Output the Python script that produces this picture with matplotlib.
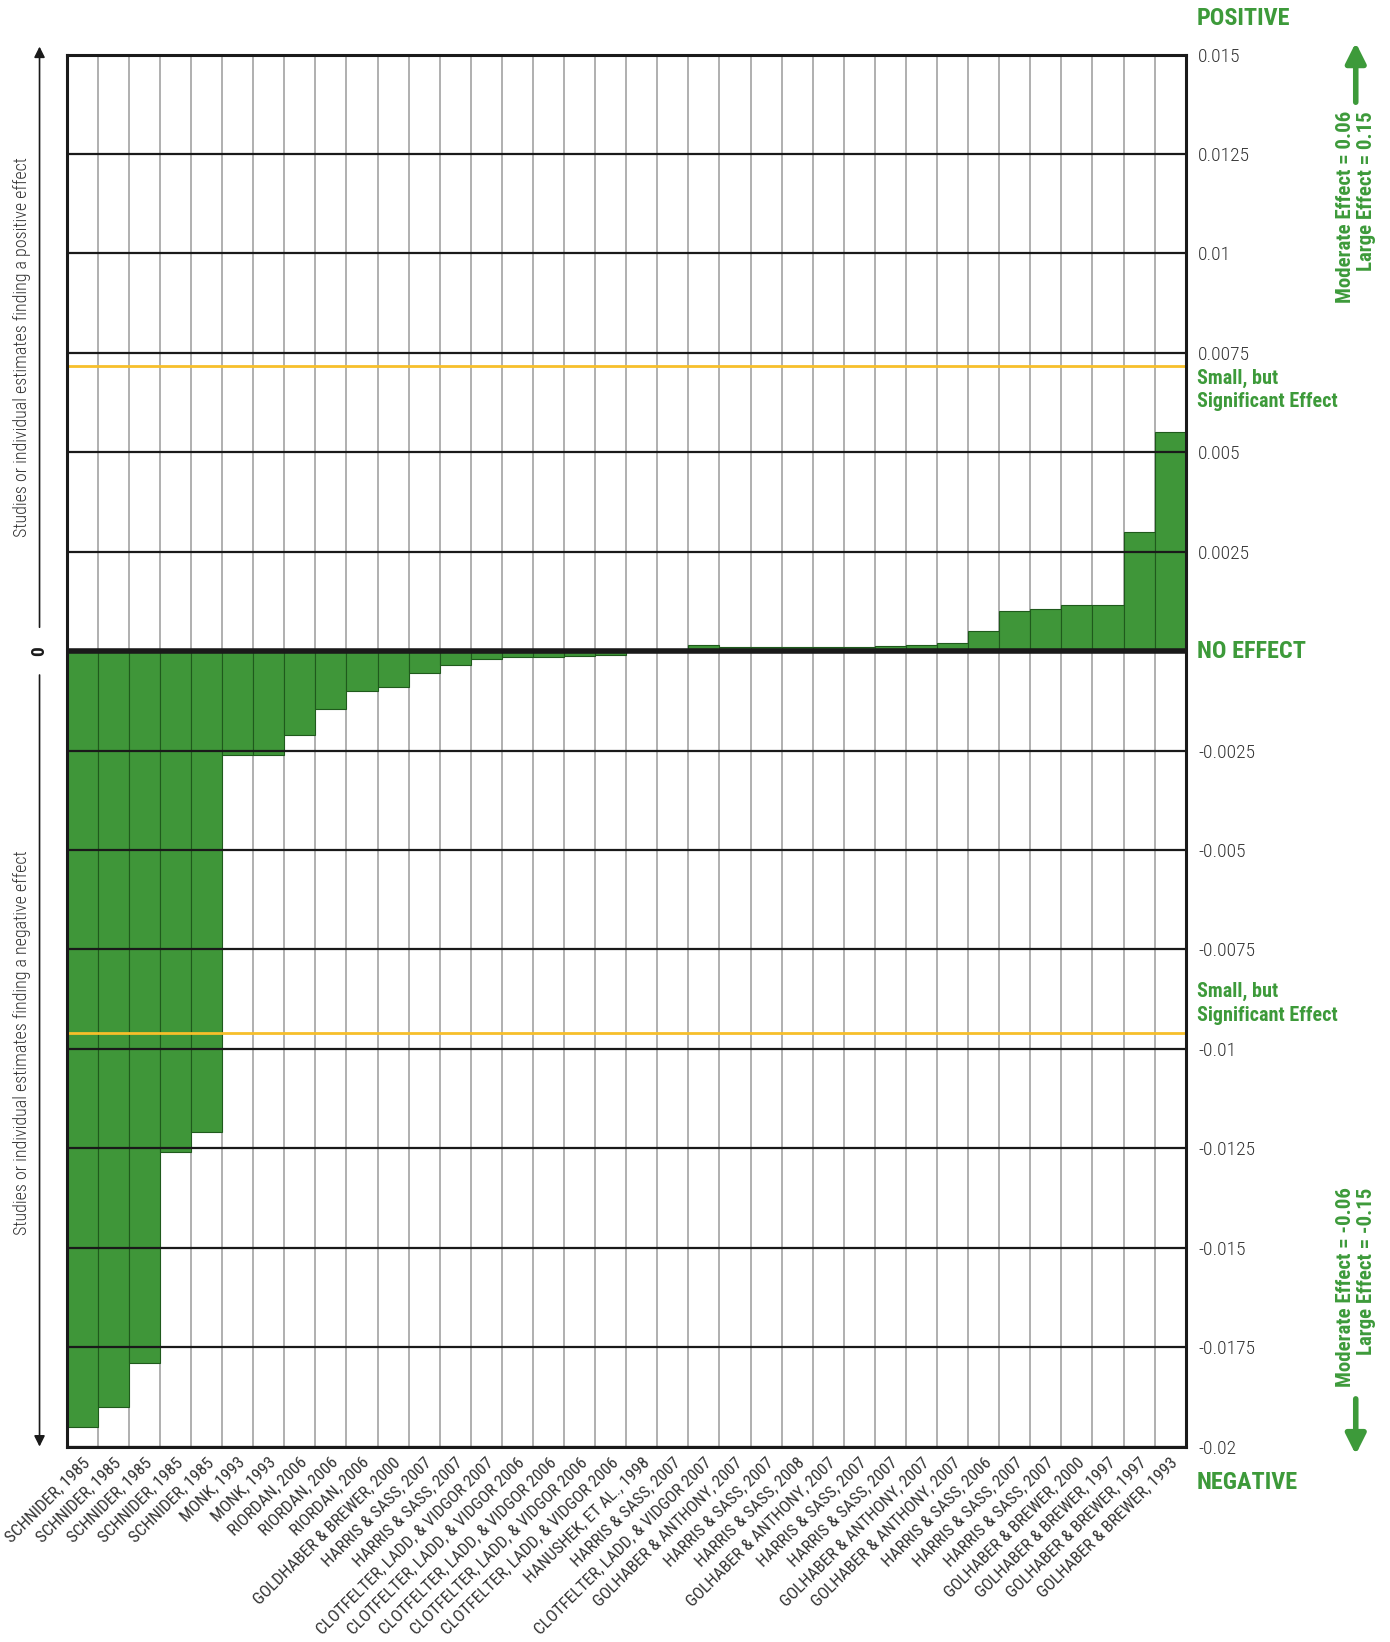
import matplotlib
matplotlib.use('Agg')
import matplotlib.pyplot as plt

# study labels, in the order drawn left to right
studies = ['SCHNIDER, 1985', 'SCHNIDER, 1985', 'SCHNIDER, 1985', 'SCHNIDER, 1985', 'SCHNIDER, 1985',
           'MONK, 1993', 'MONK, 1993',
           'RIORDAN, 2006', 'RIORDAN, 2006', 'RIORDAN, 2006',
           'GOLDHABER & BREWER, 2000',
           'HARRIS & SASS, 2007', 'HARRIS & SASS, 2007',
           'CLOTFELTER, LADD, & VIDGOR 2007', 'CLOTFELTER, LADD, & VIDGOR 2006',
           'CLOTFELTER, LADD, & VIDGOR 2006', 'CLOTFELTER, LADD, & VIDGOR 2006',
           'CLOTFELTER, LADD, & VIDGOR 2006',
           'HANUSHEK, ET AL., 1998', 'HARRIS & SASS, 2007', 'CLOTFELTER, LADD, & VIDGOR 2007',
           'GOLHABER & ANTHONY, 2007', 'HARRIS & SASS, 2007', 'HARRIS & SASS, 2008',
           'GOLHABER & ANTHONY, 2007', 'HARRIS & SASS, 2007', 'HARRIS & SASS, 2007',
           'GOLHABER & ANTHONY, 2007', 'GOLHABER & ANTHONY, 2007', 'HARRIS & SASS, 2006',
           'HARRIS & SASS, 2007', 'HARRIS & SASS, 2007', 'GOLHABER & BREWER, 2000',
           'GOLHABER & BREWER, 1997', 'GOLHABER & BREWER, 1997', 'GOLHABER & BREWER, 1993']

effects = [-0.0195, -0.0190, -0.0179, -0.0126, -0.0121,
           -0.0026, -0.0026,
           -0.0021, -0.00145, -0.0010,
           -0.0009,
           -0.00055, -0.00035,
           -0.0002, -0.00015, -0.00015, -0.00013, -0.0001,
           0.0, 0.0, 0.00015,
           0.0001, 0.0001, 0.0001, 0.0001, 0.0001, 0.00012,
           0.00015, 0.0002, 0.0005,
           0.001, 0.00105, 0.00115, 0.00115, 0.003, 0.0055]

yticks = [0.015, 0.0125, 0.01, 0.0075, 0.005, 0.0025, 0.0,
          -0.0025, -0.005, -0.0075, -0.01, -0.0125, -0.015, -0.0175, -0.02]
ytick_labels = ['0.015', '0.0125', '0.01', '0.0075', '0.005', '0.0025', '',
                '-0.0025', '-0.005', '-0.0075', '-0.01', '-0.0125', '-0.015', '-0.0175', '-0.02']

small_pos = 0.00716
small_neg = -0.0096

green = '#3f9639'
text_green = '#3d9a3a'
narrow = ['Roboto Condensed', 'Liberation Sans Narrow', 'Roboto', 'DejaVu Sans']

fig = plt.figure(figsize=(13.9, 16.42), dpi=100)
ax = fig.add_axes([0.048, 0.119, 0.805, 0.8478])

n = len(effects)
xs = list(range(n))

# vertical separators behind the bars
for i in range(n + 1):
    ax.axvline(i - 0.5, color='#9a9a9a', lw=1.1, zorder=1)

ax.bar(xs, effects, width=1.0, color=green, edgecolor='#1f5a1c', linewidth=0.8, zorder=2)

# horizontal grid on top of the bars
for t in yticks:
    if t != 0:
        ax.axhline(t, color='#1a1a1a', lw=1.6, zorder=3)
ax.axhline(0, color='#1a1a1a', lw=4, zorder=4)

ax.axhline(small_pos, color='#f7bf2a', lw=2, zorder=4, clip_on=False)
ax.axhline(small_neg, color='#f7bf2a', lw=2, zorder=4, clip_on=False)

ax.set_xlim(-0.5, n - 0.5)
ax.set_ylim(-0.02, 0.015)

for s in ax.spines.values():
    s.set_linewidth(2.2)
    s.set_color('#1a1a1a')
    s.set_zorder(5)

ax.yaxis.tick_right()
ax.set_yticks(yticks)
ax.set_yticklabels(ytick_labels, family=narrow, fontsize=14, color='#333333', fontweight='light')
ax.tick_params(axis='y', length=0, pad=9)

ax.set_xticks(xs)
ax.set_xticklabels(studies, rotation=45, ha='right', rotation_mode='anchor',
                   family=narrow, fontsize=12.3, color='#333333')
ax.tick_params(axis='x', length=0, pad=6)

# right side annotations
tr = ax.get_yaxis_transform()
ax.text(1.01, 0.0159, 'POSITIVE', transform=tr, color=text_green, fontsize=17.5,
        fontweight='bold', family=narrow, va='center', ha='left')
ax.text(1.01, 0.0, 'NO EFFECT', transform=tr, color=text_green, fontsize=17.5,
        fontweight='bold', family=narrow, va='center', ha='left')
ax.text(1.01, -0.0209, 'NEGATIVE', transform=tr, color=text_green, fontsize=17.5,
        fontweight='bold', family=narrow, va='center', ha='left')
ax.text(1.01, 0.00657, 'Small, but\nSignificant Effect', transform=tr, color=text_green,
        fontsize=14.5, fontweight='bold', family=narrow, va='center', ha='left',
        linespacing=1.3)
ax.text(1.01, -0.00886, 'Small, but\nSignificant Effect', transform=tr, color=text_green,
        fontsize=14.5, fontweight='bold', family=narrow, va='center', ha='left',
        linespacing=1.3)

ax.text(1.152, 0.01116, 'Moderate Effect = 0.06\nLarge Effect = 0.15', transform=tr,
        color=text_green, fontsize=15, fontweight='bold', family=narrow, rotation=90,
        va='center', ha='center', multialignment='right', linespacing=1.15)
ax.text(1.152, -0.0160, 'Moderate Effect = -0.06\nLarge Effect = -0.15', transform=tr,
        color=text_green, fontsize=15, fontweight='bold', family=narrow, rotation=90,
        va='center', ha='center', multialignment='right', linespacing=1.15)

ax.annotate('', xy=(1.152, 0.0153), xytext=(1.152, 0.0138), xycoords=tr, textcoords=tr,
            arrowprops=dict(arrowstyle='-|>', color=text_green, lw=4, mutation_scale=30,
                            shrinkA=0, shrinkB=0), annotation_clip=False)
ax.annotate('', xy=(1.152, -0.0202), xytext=(1.152, -0.0188), xycoords=tr, textcoords=tr,
            arrowprops=dict(arrowstyle='-|>', color=text_green, lw=4, mutation_scale=30,
                            shrinkA=0, shrinkB=0), annotation_clip=False)

# left side arrows and labels
ax.annotate('', xy=(-0.0243, 0.0152), xytext=(-0.0243, 0.0006), xycoords=tr, textcoords=tr,
            arrowprops=dict(arrowstyle='-|>', color='#1a1a1a', lw=1.2, mutation_scale=16,
                            shrinkA=0, shrinkB=0), annotation_clip=False)
ax.annotate('', xy=(-0.0243, -0.0200), xytext=(-0.0243, -0.0006), xycoords=tr, textcoords=tr,
            arrowprops=dict(arrowstyle='-|>', color='#1a1a1a', lw=1.2, mutation_scale=16,
                            shrinkA=0, shrinkB=0), annotation_clip=False)
ax.text(-0.0243, 0.0, '0', transform=tr, fontsize=14, fontweight='bold', family=narrow,
        rotation=90, va='center', ha='center', color='#1a1a1a')
ax.text(-0.040, 0.00765, 'Studies or individual estimates finding a positive effect',
        transform=tr, fontsize=13, family=narrow, rotation=90, va='center', ha='center',
        color='#333333', fontweight='light')
ax.text(-0.040, -0.00985, 'Studies or individual estimates finding a negative effect',
        transform=tr, fontsize=13, family=narrow, rotation=90, va='center', ha='center',
        color='#333333', fontweight='light')

fig.savefig('out.png', dpi=100)
